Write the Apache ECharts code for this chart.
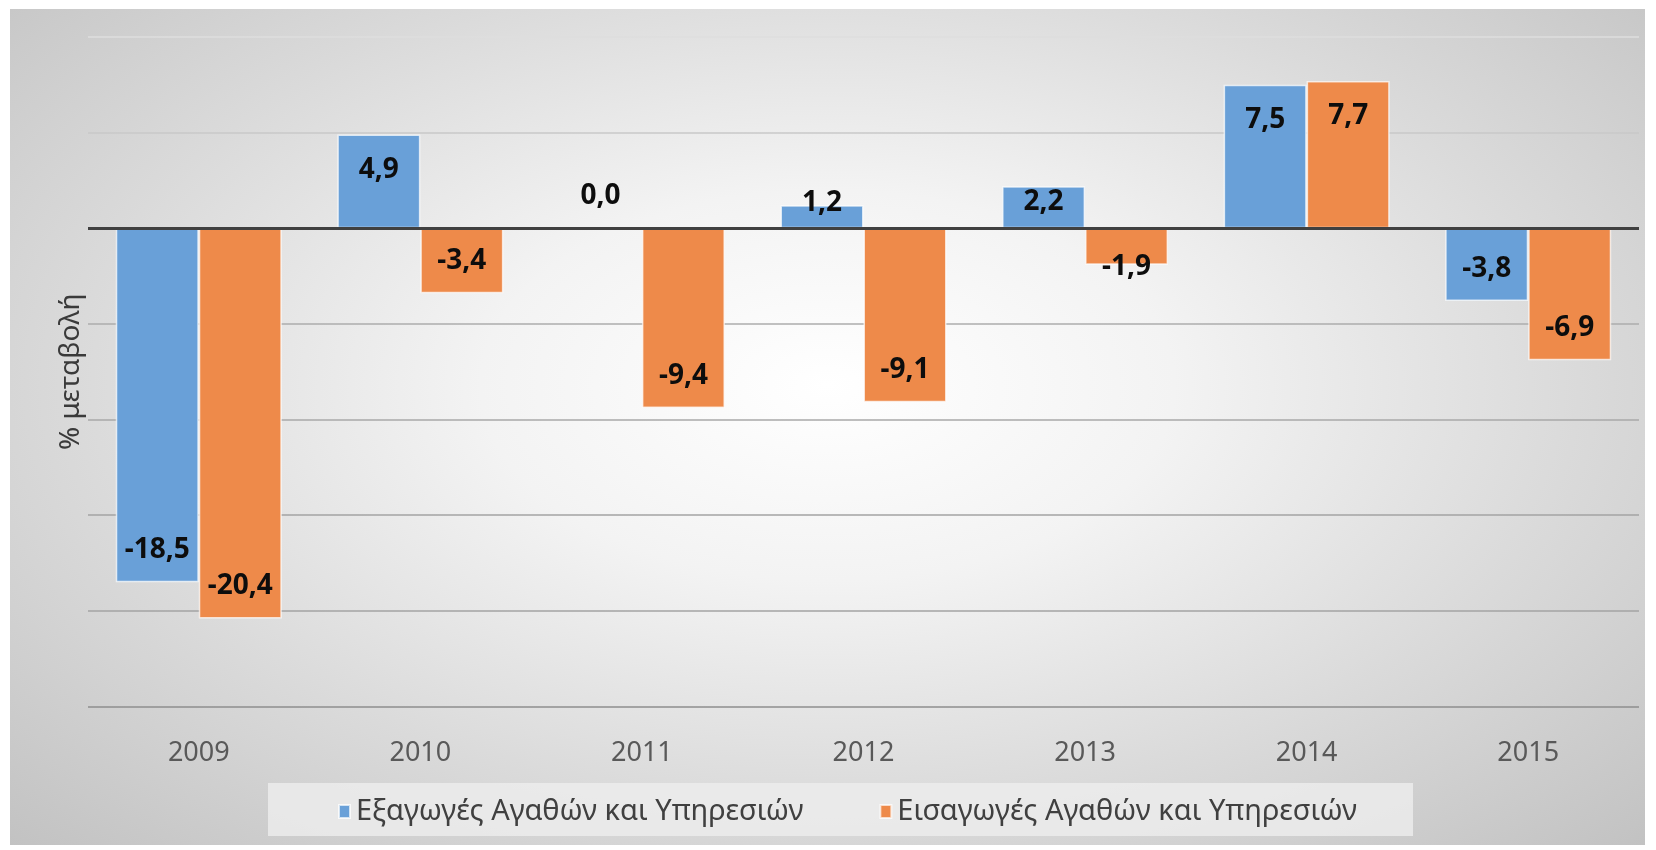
<!DOCTYPE html>
<html>
<head>
<meta charset="utf-8">
<script src="https://cdn.jsdelivr.net/npm/echarts@6/dist/echarts.min.js"></script>
<style>
  html, body { margin: 0; padding: 0; background: #fff; }
  #wrap { position: relative; width: 1656px; height: 850px; }
  #bg {
    position: absolute; left: 10px; top: 9px; width: 1635px; height: 836px;
    background: radial-gradient(ellipse at 50% 45%, #ffffff 0%, #f3f3f3 30%, #dadada 65%, #c2c2c2 100%);
  }
  #main { position: absolute; left: 0; top: 0; width: 1656px; height: 850px; }
</style>
</head>
<body>
<div id="wrap">
  <div id="bg"></div>
  <div id="main"></div>
</div>
<script>
// έτη και ποσοστιαίες μεταβολές
var years = ['2009', '2010', '2011', '2012', '2013', '2014', '2015'];
var exportsChange = [-18.5, 4.9, 0.0, 1.2, 2.2, 7.5, -3.8];
var importsChange = [-20.4, -3.4, -9.4, -9.1, -1.9, 7.7, -6.9];
var seriesNames = ['Εξαγωγές Αγαθών και Υπηρεσιών', 'Εισαγωγές Αγαθών και Υπηρεσιών'];

function fmt(v) {
    return v.toFixed(1).replace('.', ',');
}

// θέση ετικέτας όπως στο excel (inside end)
function withLabels(values) {
    return values.map(function (v) {
        var pos, dist;
        if (v === 0) { pos = 'top'; dist = 18; }
        else if (v > 0 && v < 1.5) { pos = 'top'; dist = -12; }
        else if (v > 0 && v < 3) { pos = 'insideTop'; dist = 2; }
        else if (v < 0 && v > -3) { pos = 'bottom'; dist = -12; }
        else if (v > 0) { pos = 'insideTop'; dist = 21; }
        else { pos = 'insideBottom'; dist = 18; }
        return { value: v, label: { position: pos, distance: dist } };
    });
}

var myChart = echarts.init(document.getElementById('main'));

var labelStyle = {
    show: true,
    formatter: function (p) { return fmt(p.value); },
    color: '#0d0d0d',
    fontFamily: 'Noto Sans',
    fontWeight: 'bold',
    fontSize: 28
};

var option = {
    animation: false,
    grid: { left: 88, right: 17, top: 37, bottom: 143.5 },
    graphic: [{
        type: 'rect',
        left: 268, top: 783,
        shape: { width: 1145, height: 53 },
        style: { fill: 'rgba(238,238,238,0.8)' },
        z: -1
    }],
    legend: {
        left: 333, top: 792,
        itemWidth: 11, itemHeight: 13,
        itemGap: 76,
        icon: 'rect',
        textStyle: { fontFamily: 'Noto Sans', fontSize: 29, color: '#404040', padding: [0, 0, 0, 1] },
        data: seriesNames
    },
    xAxis: {
        type: 'category',
        data: years,
        axisLine: { show: false, onZero: false },
        axisTick: { show: false },
        axisLabel: { margin: 33, fontFamily: 'Noto Sans', fontSize: 27, color: '#595959' }
    },
    yAxis: {
        type: 'value',
        min: -25, max: 10, interval: 5,
        name: '% μεταβολή',
        nameLocation: 'middle',
        nameGap: 3,
        nameRotate: 90,
        nameTextStyle: { fontFamily: 'Noto Sans', fontSize: 28, color: '#3a3a3a' },
        axisLabel: { show: false },
        axisLine: { show: false },
        axisTick: { show: false },
        splitLine: {
            lineStyle: {
                width: 1.5,
                color: ['#8e8e8e', '#a3a3a3', '#a3a3a3', '#a8a8a8', '#adadad', '#b0b0b0', '#c9c9c9', '#dedede']
            }
        }
    },
    series: [{
        name: seriesNames[0],
        type: 'bar',
        barWidth: 83,
        barGap: '0%',
        itemStyle: { color: '#69a0d8', borderColor: 'rgba(255,255,255,0.7)', borderWidth: 1.5 },
        label: labelStyle,
        data: withLabels(exportsChange),
        markLine: {
            silent: true,
            symbol: 'none',
            label: { show: false },
            lineStyle: { color: '#404040', width: 3, type: 'solid' },
            data: [{ yAxis: 0 }],
            z: 5
        }
    }, {
        name: seriesNames[1],
        type: 'bar',
        barWidth: 83,
        barGap: '0%',
        itemStyle: { color: '#ee8a4a', borderColor: 'rgba(255,255,255,0.7)', borderWidth: 1.5 },
        label: labelStyle,
        data: withLabels(importsChange)
    }]
};

myChart.setOption(option);
</script>
</body>
</html>
